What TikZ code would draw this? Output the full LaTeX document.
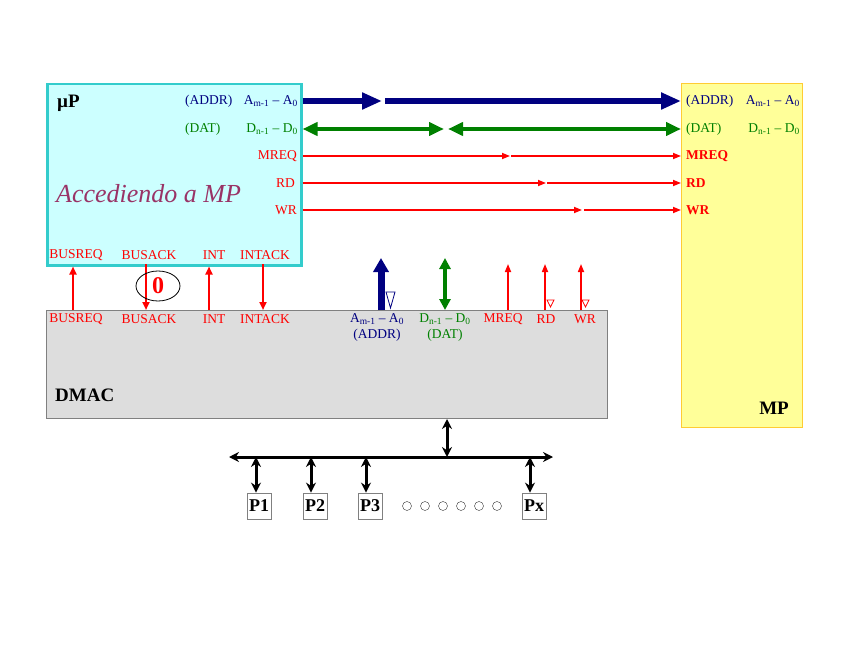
\documentclass[tikz,border=0pt]{standalone}
\usepackage{fontspec}
\setmainfont{Liberation Serif}
\usetikzlibrary{positioning, arrows.meta, shapes.geometric}
\definecolor{addrblue}{HTML}{000080}
\definecolor{datgreen}{HTML}{008000}
\definecolor{sigred}{HTML}{FF0000}
\definecolor{accpurple}{HTML}{993366}
\definecolor{upfill}{HTML}{CCFFFF}
\definecolor{upline}{HTML}{33CCCC}
\definecolor{dmfill}{HTML}{DDDDDD}
\definecolor{dmline}{HTML}{808080}
\definecolor{mpfill}{HTML}{FFFF99}
\definecolor{mpline}{HTML}{FFCC33}

\begin{document}
\begin{tikzpicture}[x=1pt, y=-1pt,
    sig/.style={font=\fontsize{13.5}{16}\selectfont, inner sep=0pt},
    sigb/.style={font=\fontsize{13.5}{16}\selectfont\bfseries, inner sep=0pt},
    big/.style={font=\fontsize{19}{22}\selectfont\bfseries, inner sep=0pt},
    pbox/.style={draw=dmline, thick, fill=white, font=\fontsize{18}{20}\selectfont\bfseries, inner xsep=2pt, minimum height=26pt},
    dot/.style={circle, draw=black!80, thin, minimum size=9pt, inner sep=0pt},
    abus/.style={draw=addrblue, line width=6pt, -{Triangle[length=20pt,width=16pt]}},
    dbus/.style={draw=datgreen, line width=4pt, {Triangle[length=15pt,width=13pt]}-{Triangle[length=15pt,width=13pt]}},
    cline/.style={draw=sigred, line width=1.6pt, -{Triangle[length=8pt,width=6pt]}},
    hs/.style={draw=sigred, line width=2pt, -{Triangle[length=8pt,width=7pt]}},
    sysbus/.style={draw=black, line width=3pt, {Stealth[length=10pt,width=10pt]}-{Stealth[length=10pt,width=10pt]}},
    tri/.style={thick, line join=miter}
]

  \useasboundingbox (0,0) rectangle (848,655);

  % 方框
  \node[draw=upline, fill=upfill, line width=2.5pt, minimum width=254pt, minimum height=181pt, anchor=north west] (up) at (46,83) {};
  \node[draw=dmline, fill=dmfill, line width=1pt, minimum width=561pt, minimum height=108pt, anchor=north west] (dmac) at (46,310) {};
  \node[draw=mpline, fill=mpfill, line width=1pt, minimum width=121pt, minimum height=344pt, anchor=north west] (mp) at (681,83) {};

  % uP 的标签
  \node[big, anchor=west] (uname) at (57,103) {µP};
  \node[sig, text=addrblue, anchor=west] (uaddr) at (185,101) {(ADDR)};
  \node[sig, text=addrblue, anchor=east] (ua) at (298,101) {A\textsubscript{m-1} -- A\textsubscript{0}};
  \node[sig, text=datgreen, anchor=west] (udat) at (185,129) {(DAT)};
  \node[sig, text=datgreen, anchor=east] (ud) at (298,129) {D\textsubscript{n-1} -- D\textsubscript{0}};
  \node[sig, text=sigred, anchor=east] (um) at (297,156) {MREQ};
  \node[sig, text=sigred, anchor=east] (ur) at (295,183) {RD};
  \node[sig, text=sigred, anchor=east] (uw) at (297,210) {WR};
  \node[font=\fontsize{26}{30}\selectfont\itshape, text=accpurple, anchor=west, inner sep=0pt] (acc) at (56,194) {Accediendo a MP};
  \node[sig, text=sigred] (ubrq) at (76,255) {BUSREQ};
  \node[sig, text=sigred] (ubak) at (149,255) {BUSACK};
  \node[sig, text=sigred] (uint) at (214,255) {INT};
  \node[sig, text=sigred] (uiak) at (265,255) {INTACK};

  % DMAC 的标签
  \node[sig, text=sigred] (dbrq) at (76,319) {BUSREQ};
  \node[sig, text=sigred] (dbak) at (149,319) {BUSACK};
  \node[sig, text=sigred] (dint) at (214,319) {INT};
  \node[sig, text=sigred] (diak) at (265,319) {INTACK};
  \node[sig, text=addrblue] (da) at (377,319) {A\textsubscript{m-1} -- A\textsubscript{0}};
  \node[sig, text=addrblue] (daddr) at (377,335) {(ADDR)};
  \node[sig, text=datgreen] (dd) at (445,319) {D\textsubscript{n-1} -- D\textsubscript{0}};
  \node[sig, text=datgreen] (ddat) at (445,335) {(DAT)};
  \node[sig, text=sigred] (dm) at (503,319) {MREQ};
  \node[sig, text=sigred] (dr) at (546,319) {RD};
  \node[sig, text=sigred] (dw) at (585,319) {WR};
  \node[big, anchor=west] (dname) at (55,395) {DMAC};

  % MP 的标签
  \node[sig, text=addrblue, anchor=west] (maddr) at (686,101) {(ADDR)};
  \node[sig, text=addrblue, anchor=east] (ma) at (800,101) {A\textsubscript{m-1} -- A\textsubscript{0}};
  \node[sig, text=datgreen, anchor=west] (mdat) at (686,129) {(DAT)};
  \node[sig, text=datgreen, anchor=east] (md) at (800,129) {D\textsubscript{n-1} -- D\textsubscript{0}};
  \node[sigb, text=sigred, anchor=west] (mm) at (686,156) {MREQ};
  \node[sigb, text=sigred, anchor=west] (mr) at (686,183) {RD};
  \node[sigb, text=sigred, anchor=west] (mw) at (686,210) {WR};
  \node[big, anchor=east] (mname) at (789,408) {MP};

  % 断点和引脚
  \coordinate (ka) at (382,101); \coordinate (la) at (385,101);
  \coordinate (kd) at (444,129); \coordinate (ld) at (448,129);
  \coordinate (km) at (510,156); \coordinate (lm) at (511,156);
  \coordinate (kr) at (546,183); \coordinate (lr) at (547,183);
  \coordinate (kw) at (582,210); \coordinate (lw) at (584,210);
  \coordinate (pa) at (381,310); \coordinate (ta) at (381,258);
  \coordinate (pd) at (445,310); \coordinate (td) at (445,258);
  \coordinate (pm) at (508,310); \coordinate (tm) at (508,264);
  \coordinate (pr) at (545,310); \coordinate (tr) at (545,264);
  \coordinate (pw) at (581,310); \coordinate (tw) at (581,264);

  % uP 到 MP 的总线
  \draw[abus] (up.east |- ua) -- (ka);
  \draw[abus] (la) -- (mp.west |- ua);
  \draw[dbus] (up.east |- ud) -- (kd);
  \draw[dbus] (ld) -- (mp.west |- ud);
  \draw[cline] (up.east |- um) -- (km);
  \draw[cline] (lm) -- (mp.west |- um);
  \draw[cline] (up.east |- ur) -- (kr);
  \draw[cline] (lr) -- (mp.west |- ur);
  \draw[cline] (up.east |- uw) -- (kw);
  \draw[cline] (lw) -- (mp.west |- uw);

  % DMAC 的输出
  \draw[draw=addrblue, line width=7pt, -{Triangle[length=14pt,width=15pt]}] (pa) -- (ta);
  \draw[draw=datgreen, line width=4pt, {Triangle[length=11pt,width=11pt]}-{Triangle[length=11pt,width=11pt]}] (pd) -- (td);
  \draw[cline] (pm) -- (tm);
  \draw[cline] (pr) -- (tr);
  \draw[cline] (pw) -- (tw);
  \draw[tri, addrblue] (386,292) -- (395,292) -- (390.5,308) -- cycle;
  \draw[tri, sigred] (547,300) -- (554,300) -- (550.5,307) -- cycle;
  \draw[tri, sigred] (582,300) -- (589,300) -- (585.5,307) -- cycle;

  % 握手信号
  \coordinate (hq) at (73,310);
  \coordinate (ha) at (146,264);
  \coordinate (hi) at (209,310);
  \coordinate (hk) at (263,264);
  \draw[hs] (hq) -- (hq |- up.south);
  \draw[hs] (ha) -- (ha |- dmac.north);
  \draw[hs] (hi) -- (hi |- up.south);
  \draw[hs] (hk) -- (hk |- dmac.north);
  \node[ellipse, draw=black, thick, minimum width=44pt, minimum height=30pt, inner sep=0pt, text=sigred, font=\fontsize{24}{26}\selectfont\bfseries] (zero) at (158,286) {0};

  % 系统总线和外设
  \coordinate (bl) at (229,457);
  \coordinate (br) at (553,457);
  \coordinate (bt) at (447,457);
  \draw[sysbus] (bl) -- (br);
  \draw[sysbus] (dmac.south -| bt) -- (bt);
  \node[pbox] (p1) at (259,506) {P1};
  \node[pbox] (p2) at (315,506) {P2};
  \node[pbox] (p3) at (370,506) {P3};
  \node[pbox] (px) at (534,506) {Px};
  \coordinate (b1) at (256,457);
  \coordinate (b2) at (311,457);
  \coordinate (b3) at (366,457);
  \coordinate (bx) at (530,457);
  \foreach \b/\p in {b1/p1, b2/p2, b3/p3, bx/px}
    \draw[sysbus] (\b) -- (\b |- \p.north);
  \foreach \x in {407,425,443,461,479,497}
    \node[dot] (c\x) at (\x,506) {};
\end{tikzpicture}
\end{document}
